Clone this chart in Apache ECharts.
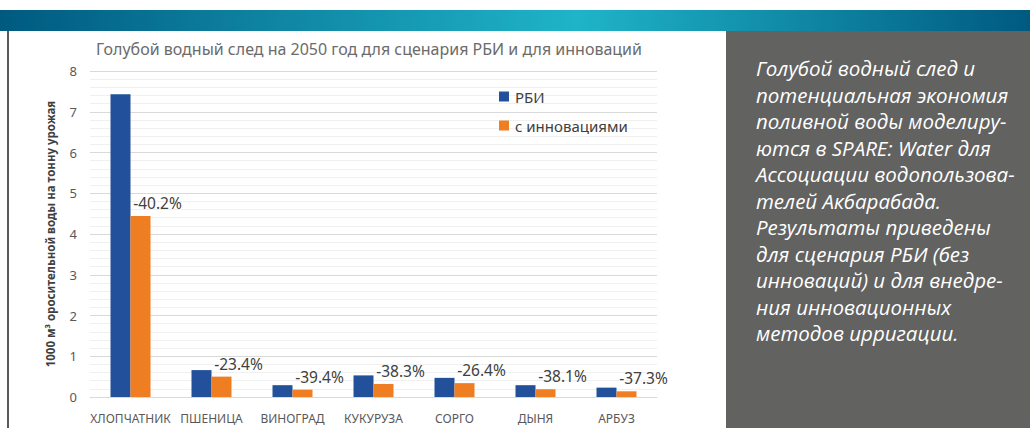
<!DOCTYPE html>
<html>
<head>
<meta charset="utf-8">
<script src="https://cdn.jsdelivr.net/npm/echarts@6/dist/echarts.min.js"></script>
<style>
html,body{margin:0;padding:0;background:#fff;}
#chart{width:1030px;height:428px;}
</style>
</head>
<body>
<div id="chart"></div>
<script>
// data
var crops = ['ХЛОПЧАТНИК', 'ПШЕНИЦА', 'ВИНОГРАД', 'КУКУРУЗА', 'СОРГО', 'ДЫНЯ', 'АРБУЗ'];
var baseline = [7.43, 0.66, 0.29, 0.53, 0.47, 0.29, 0.23];
var withInnov = [4.44, 0.50, 0.18, 0.32, 0.34, 0.19, 0.14];
var savings = [-40.2, -23.4, -39.4, -38.3, -26.4, -38.1, -37.3];
var seriesNames = ['РБИ', 'с инновациями'];
var titleText = 'Голубой водный след на 2050 год для сценария РБИ и для инноваций';
var yName = '1000 м³ оросительной воды на тонну урожая';
var sideLines = [
	'Голубой водный след и',
	'потенциальная экономия',
	'поливной воды моделиру-',
	'ются в SPARE: Water для',
	'Ассоциации водопользова-',
	'телей Акбарабада.',
	'Результаты приведены',
	'для сценария РБИ (без',
	'инноваций) и для внедре-',
	'ния инновационных',
	'методов ирригации.'
];

var chart = echarts.init(document.getElementById('chart'), null, {renderer: 'svg'});

var option = {
	animation: false,
	color: ['#22509a', '#ef7d22'],
	textStyle: {fontFamily: 'Noto Sans'},
	title: {
		text: titleText,
		left: 364,
		textAlign: 'center',
		top: 36,
		textStyle: {color: '#6b6b6b', fontSize: 16, fontWeight: 'normal', fontFamily: 'Noto Sans'}
	},
	legend: {
		orient: 'vertical',
		left: 494,
		top: 84,
		itemWidth: 10,
		itemHeight: 10,
		itemGap: 14,
		icon: 'rect',
		textStyle: {color: '#404040', fontSize: 15, padding: [0, 0, 0, 1]},
		data: seriesNames
	},
	grid: {
		left: 90,
		right: 373,
		top: 71,
		bottom: 31
	},
	xAxis: {
		type: 'category',
		data: crops,
		axisTick: {show: false},
		axisLine: {lineStyle: {color: '#d9d9d9'}},
		axisLabel: {color: '#595959', fontSize: 12, margin: 15, interval: 0}
	},
	yAxis: {
		type: 'value',
		min: 0,
		max: 8,
		interval: 1,
		name: yName,
		nameLocation: 'middle',
		nameGap: 34,
		nameTextStyle: {color: '#404040', fontSize: 11.5, fontWeight: 'bold'},
		axisLine: {show: false},
		axisTick: {show: false},
		axisLabel: {color: '#595959', fontSize: 13, margin: 13},
		splitLine: {lineStyle: {color: '#d9d9d9'}},
		minorTick: {show: false, splitNumber: 5},
		minorSplitLine: {show: true, lineStyle: {color: '#f0f0f0'}}
	},
	series: [
		{
			name: seriesNames[0],
			type: 'bar',
			data: baseline,
			barWidth: 20,
			barGap: '0%'
		},
		{
			name: seriesNames[1],
			type: 'bar',
			data: withInnov,
			barWidth: 20,
			label: {
				show: true,
				position: 'top',
				distance: 5,
				offset: [17, 0],
				color: '#404040',
				fontSize: 15.5,
				formatter: function (p) {
					return savings[p.dataIndex].toFixed(1) + '%';
				}
			}
		}
	],
	graphic: [
		{
			type: 'rect',
			shape: {x: 0, y: 10, width: 1030, height: 21},
			style: {
				fill: new echarts.graphic.LinearGradient(0, 0, 1, 0, [
					{offset: 0, color: '#005a80'},
					{offset: 0.56, color: '#1fb4c8'},
					{offset: 1, color: '#005a80'}
				])
			}
		},
		{
			type: 'rect',
			shape: {x: 7, y: 31, width: 2, height: 397},
			style: {fill: '#5a5a5a'}
		},
		{
			type: 'rect',
			shape: {x: 726, y: 31, width: 304, height: 397},
			style: {fill: '#626261'}
		},
		{
			type: 'text',
			x: 756,
			y: 55,
			style: {
				text: sideLines.join('\n'),
				fill: '#ffffff',
				fontSize: 20.5,
				fontStyle: 'italic',
				fontFamily: 'Open Sans',
				lineHeight: 26.5
			}
		}
	]
};

chart.setOption(option);
</script>
</body>
</html>
